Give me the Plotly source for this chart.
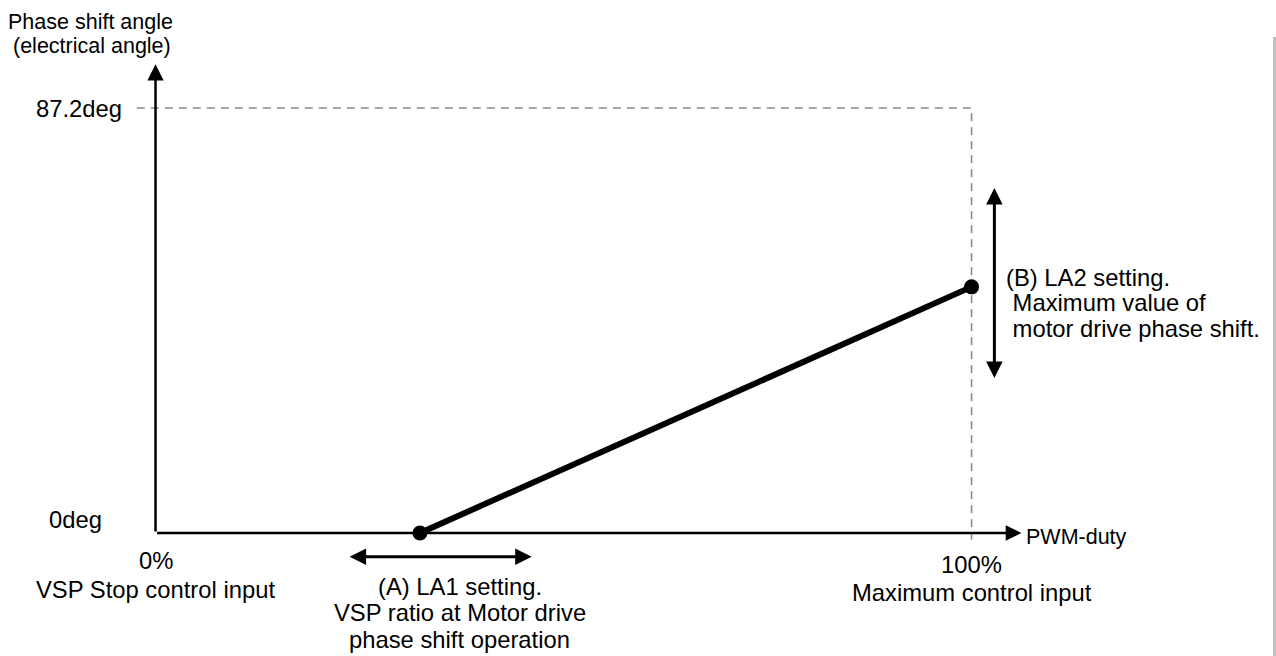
import plotly.graph_objects as go

# ---- data ----
duty_pct = [0, 100]                 # PWM-duty tick positions (%)
duty_labels = ["0%", "100%"]
duty_captions = ["VSP Stop control input", "Maximum control input"]
angle_deg = [0, 87.2]               # phase shift angle ticks (deg)
angle_labels = ["0deg", "87.2deg"]
la1_pct = 32.4                      # (A) LA1 setting, duty where phase shift starts
la2_deg = 50.5                      # (B) LA2 setting, max phase shift at 100 %
curve_x = [la1_pct, 100]
curve_y = [0, la2_deg]
x_axis_end = 106.1
y_axis_end = 96.2
la1_range = [23.6, 46.1]            # adjustable range of LA1 (double arrow)
la2_range = [31.5, 70.8]            # adjustable range of LA2 (double arrow)
note_a = ["(A) LA1 setting.", "VSP ratio at Motor drive", "phase shift operation"]
note_b = ["(B) LA2 setting.", " Maximum value of", " motor drive phase shift."]

FONT = "Arial, Liberation Sans, sans-serif"
BLACK = "#000000"
GRAY = "#8a8a8a"
FS = 23.8
FS_T = 21.5

fig = go.Figure()

# dashed guide lines to max angle / 100%
fig.add_trace(go.Scatter(x=[-2.3, duty_pct[1], duty_pct[1]],
                         y=[angle_deg[1], angle_deg[1], -1.4],
                         mode="lines", line=dict(color=GRAY, width=1.6, dash="8px,6px"),
                         hoverinfo="skip", showlegend=False))

# characteristic line
fig.add_trace(go.Scatter(x=curve_x, y=curve_y, mode="lines+markers",
                         line=dict(color=BLACK, width=6),
                         marker=dict(color=BLACK, size=15),
                         hoverinfo="skip", showlegend=False))

ann = []
# axes as arrows
ann.append(dict(x=x_axis_end, y=0, ax=0, ay=0, xref="x", yref="y", axref="x", ayref="y",
                text="", showarrow=True, arrowhead=2, arrowwidth=2.5, arrowsize=1.25,
                arrowcolor=BLACK, standoff=0, startstandoff=0))
ann.append(dict(x=0, y=y_axis_end, ax=0, ay=0, xref="x", yref="y", axref="x", ayref="y",
                text="", showarrow=True, arrowhead=2, arrowwidth=2.5, arrowsize=1.3,
                arrowcolor=BLACK, standoff=0, startstandoff=0))
# double arrows for LA1 and LA2 ranges
ann.append(dict(x=la1_range[1], y=-4.9, ax=la1_range[0], ay=-4.9, xref="x", yref="y",
                axref="x", ayref="y", text="", showarrow=True, arrowhead=2, startarrowhead=2,
                arrowside="end+start", arrowwidth=3, arrowsize=1.1, startarrowsize=1.1,
                arrowcolor=BLACK, standoff=0, startstandoff=0))
ann.append(dict(x=102.8, y=la2_range[1], ax=102.8, ay=la2_range[0], xref="x", yref="y",
                axref="x", ayref="y", text="", showarrow=True, arrowhead=2, startarrowhead=2,
                arrowside="end+start", arrowwidth=3, arrowsize=1.1, startarrowsize=1.1,
                arrowcolor=BLACK, standoff=0, startstandoff=0))

def label(text, x, y, size=FS, xanchor="center", yanchor="middle", align="center"):
    ann.append(dict(x=x, y=y, xref="x", yref="y", text=text, showarrow=False,
                    xanchor=xanchor, yanchor=yanchor, align=align,
                    font=dict(family=FONT, size=size, color=BLACK)))

# axis titles
label("Phase shift angle", -8.0, 104.8, size=FS_T)
label("(electrical angle)", -7.8, 99.9, size=FS_T)
label("PWM-duty", 106.4, -0.8, size=FS_T, xanchor="left")
# y ticks
label(angle_labels[1], -3.9, angle_deg[1], xanchor="right")
label(angle_labels[0], -6.3, 2.7, xanchor="right")
# x ticks + captions
for xv, t, c, ty, cy in zip(duty_pct, duty_labels, duty_captions, [-5.7, -6.5], [-11.5, -12.3]):
    label(t, xv, ty)
    label(c, xv, cy)
# (A) note
for line, yv in zip(note_a, [-10.9, -16.4, -21.95]):
    label(line, 37.3, yv)
# (B) note
for line, yv in zip(note_b, [52.5, 47.2, 41.9]):
    label(line, 104.0, yv, xanchor="left")

fig.update_layout(
    width=1276, height=656, autosize=False,
    margin=dict(l=0, r=0, t=0, b=0, pad=0),
    paper_bgcolor="white", plot_bgcolor="white",
    xaxis=dict(range=[-19.06, 137.31], visible=False, fixedrange=True),
    yaxis=dict(range=[-25.24, 109.36], visible=False, fixedrange=True),
    annotations=ann,
    shapes=[dict(type="line", xref="paper", yref="paper", x0=0.9988, x1=0.9988,
                 y0=0, y1=0.9436, line=dict(color="#c0c0c0", width=3))],
)

fig.write_html("out.html", config={"displayModeBar": False},
               post_script="document.body.style.margin='0';document.body.style.overflow='hidden';")
